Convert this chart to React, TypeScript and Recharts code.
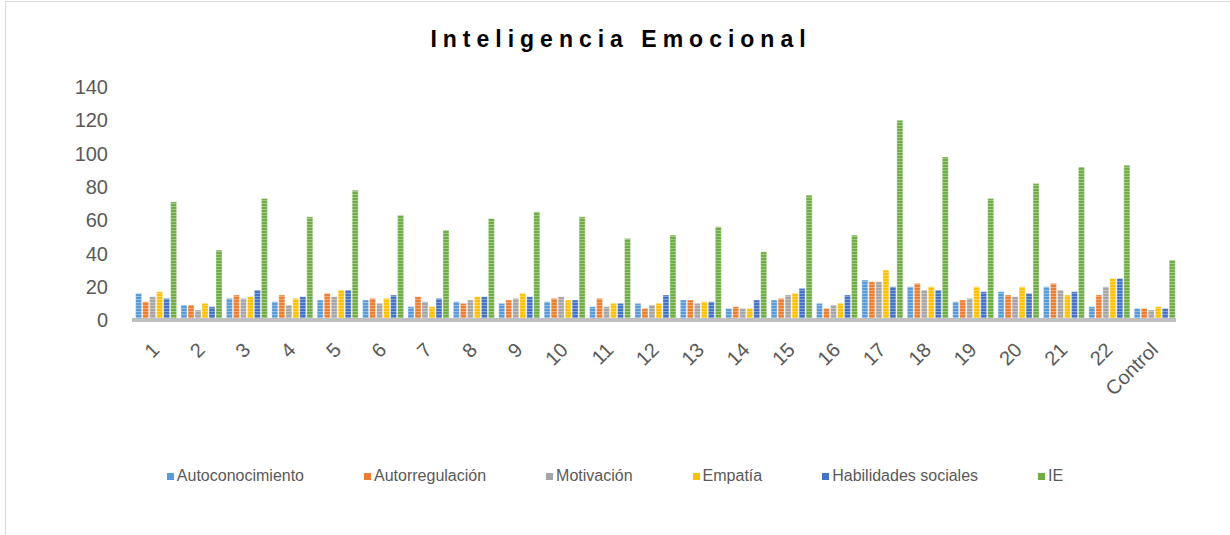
import React from "react";
import { Bar, BarChart, Legend, XAxis, YAxis } from "recharts";

const categories = ["1", "2", "3", "4", "5", "6", "7", "8", "9", "10", "11", "12", "13", "14", "15", "16", "17", "18", "19", "20", "21", "22", "Control"];

const autoconocimiento = [16, 9, 13, 11, 12, 12, 8, 11, 10, 11, 8, 10, 12, 7, 12, 10, 24, 20, 11, 17, 20, 8, 7];
const autorregulacion = [11, 9, 15, 15, 16, 13, 14, 10, 12, 13, 13, 7, 12, 8, 13, 7, 23, 22, 12, 15, 22, 15, 7];
const motivacion = [14, 6, 13, 9, 14, 10, 11, 12, 13, 14, 8, 9, 10, 7, 15, 9, 23, 18, 13, 14, 18, 20, 6];
const empatia = [17, 10, 14, 13, 18, 13, 8, 14, 16, 12, 10, 10, 11, 7, 16, 10, 30, 20, 20, 20, 15, 25, 8];
const habilidades = [13, 8, 18, 14, 18, 15, 13, 14, 14, 12, 10, 15, 11, 12, 19, 15, 20, 18, 17, 16, 17, 25, 7];
const ie = [71, 42, 73, 62, 78, 63, 54, 61, 65, 62, 49, 51, 56, 41, 75, 51, 120, 98, 73, 82, 92, 93, 36];

const yTicks = [0, 20, 40, 60, 80, 100, 120, 140];

const series = [
  { key: "auto", name: "Autoconocimiento", color: "#5B9BD5", values: autoconocimiento },
  { key: "reg", name: "Autorregulación", color: "#ED7D31", values: autorregulacion },
  { key: "mot", name: "Motivación", color: "#A5A5A5", values: motivacion },
  { key: "emp", name: "Empatía", color: "#FFC000", values: empatia },
  { key: "hab", name: "Habilidades sociales", color: "#4472C4", values: habilidades },
  { key: "ie", name: "IE", color: "#70AD47", values: ie },
];

const chartData = categories.map((name, i) => {
  const row: Record<string, string | number> = { name };
  series.forEach((s) => {
    row[s.key] = s.values[i];
  });
  return row;
});

const FONT = "'Liberation Sans', Arial, sans-serif";
const TEXT_COLOR = "#595959";

function LegendContent() {
  return (
    <div style={{ display: "flex", justifyContent: "center", height: 20, alignItems: "center", fontFamily: FONT, fontSize: 16, color: TEXT_COLOR }}>
      {series.map((s, i) => (
        <span key={s.key} style={{ display: "inline-flex", alignItems: "center", marginRight: i === series.length - 1 ? 0 : 60 }}>
          <span style={{ width: 7, height: 7, backgroundColor: s.color, marginRight: 3, display: "inline-block" }} />
          {s.name}
        </span>
      ))}
    </div>
  );
}

export default function App() {
  return (
    <div style={{ position: "absolute", left: 0, top: 0, width: 1230, height: 535, overflow: "hidden", background: "#fff" }}>
      <div style={{ position: "absolute", left: 5, top: 1, width: 1300, height: 600, borderLeft: "1px solid #d9d9d9", borderTop: "1px solid #d9d9d9" }} />
      <div
        style={{
          position: "absolute",
          top: 26,
          left: 0,
          width: 1242,
          textAlign: "center",
          fontFamily: FONT,
          fontWeight: "bold",
          fontSize: 23,
          letterSpacing: 6,
          color: "#000",
        }}
      >
        Inteligencia Emocional
      </div>
      <div style={{ position: "absolute", left: 0, top: 0 }}>
        <BarChart width={1230} height={535} data={chartData} margin={{ top: 87, right: 54, bottom: 0, left: 0 }} barCategoryGap="8%" barGap={1}>
          <defs>
            {series.map((s) => (
              <pattern key={s.key} id={`pat-${s.key}`} width={4} height={3} patternUnits="userSpaceOnUse">
                <rect x={0} y={0} width={4} height={3} fill={s.color} />
                <rect x={0} y={2} width={4} height={1} fill="#ffffff" fillOpacity={0.35} />
              </pattern>
            ))}
          </defs>
          <XAxis
            dataKey="name"
            height={195}
            interval={0}
            axisLine={{ stroke: "#bfbfbf", strokeWidth: 4 }}
            tickLine={false}
            tickSize={0}
            tickMargin={21}
            angle={-45}
            textAnchor="end"
            tick={{ fill: TEXT_COLOR, fontSize: 20, fontFamily: FONT, dx: -4 }}
          />
          <YAxis
            width={132}
            domain={[0, 140]}
            ticks={yTicks}
            axisLine={false}
            tickLine={false}
            tickSize={0}
            tickMargin={24}
            tick={{ fill: TEXT_COLOR, fontSize: 20, fontFamily: FONT }}
          />
          <Legend content={<LegendContent />} wrapperStyle={{ top: 466, bottom: "auto", left: 0, width: 1230, height: 20 }} />
          {series.map((s) => (
            <Bar key={s.key} dataKey={s.key} name={s.name} fill={`url(#pat-${s.key})`} stroke="#ffffff" strokeOpacity={0.6} strokeWidth={0.5} isAnimationActive={false} />
          ))}
        </BarChart>
      </div>
    </div>
  );
}
